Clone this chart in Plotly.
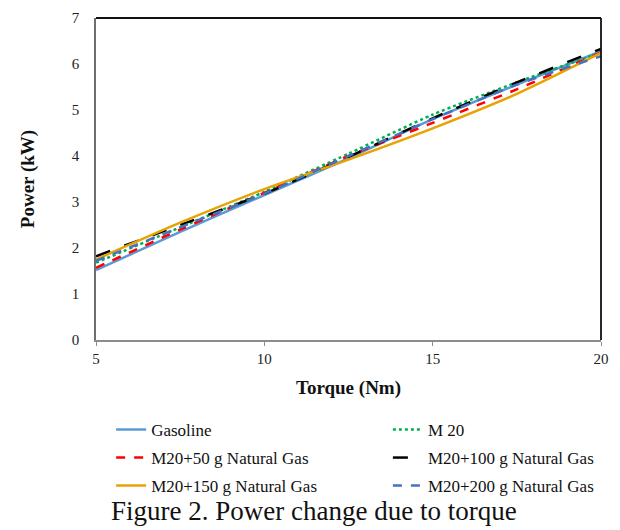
import plotly.graph_objects as go

torque = [5, 7.5, 10, 12.5, 15, 17.5, 20]
gasoline = [1.52, 2.35, 3.15, 3.95, 4.80, 5.55, 6.28]
m20 = [1.68, 2.45, 3.22, 4.05, 4.90, 5.60, 6.25]
m20_50 = [1.57, 2.40, 3.20, 4.00, 4.72, 5.45, 6.25]
m20_100 = [1.82, 2.50, 3.18, 3.98, 4.82, 5.60, 6.33]
m20_150 = [1.75, 2.55, 3.28, 3.92, 4.60, 5.35, 6.24]
m20_200 = [1.72, 2.45, 3.18, 4.00, 4.80, 5.55, 6.17]

series = [
    ("Gasoline", gasoline, "#5B9BD5", "solid"),
    ("M 20", m20, "#00B050", "dot"),
    ("M20+50 g Natural Gas", m20_50, "#FF0000", "dash"),
    ("M20+100 g Natural Gas", m20_100, "#000000", "longdash"),
    ("M20+150 g Natural Gas", m20_150, "#E8A202", "solid"),
    ("M20+200 g Natural Gas", m20_200, "#4472C4", "dash"),
]

font_family = "Liberation Serif"

# legend slot positions (paper coords): two columns, three rows
legend_x = [0.03, 0.578]
legend_y = [-0.2795, -0.3665, -0.4534]

fig = go.Figure()
legend_layouts = {}
for i, (name, vals, color, dash) in enumerate(series):
    lg = "legend" if i == 0 else f"legend{i + 1}"
    fig.add_trace(go.Scatter(
        x=torque, y=vals, name=name, mode="lines", legend=lg,
        line=dict(color=color, width=2.5, dash=dash, shape="spline", smoothing=0.6),
    ))
    legend_layouts[lg] = dict(
        x=legend_x[i % 2], xanchor="left",
        y=legend_y[i // 2], yanchor="middle",
        orientation="h",
        font=dict(size=17, family=font_family, color="#111"),
        bgcolor="rgba(0,0,0,0)",
    )

fig.update_layout(
    width=620, height=530,
    margin=dict(l=96, r=19, t=18, b=190, autoexpand=False),
    paper_bgcolor="white", plot_bgcolor="white",
    font=dict(family=font_family, color="#222", size=14),
    showlegend=True,
    xaxis=dict(
        range=[5, 20], dtick=5, tick0=5,
        showgrid=False, zeroline=False,
        showline=True, linecolor="#8c8c8c", linewidth=1.5,
        ticks="outside", ticklen=4, tickcolor="#8c8c8c",
        ticklabeloverflow="allow",
        tickfont=dict(size=15, family=font_family, color="#222"),
        title=dict(text="<b>Torque (Nm)</b>", font=dict(size=19, family=font_family, color="#111"), standoff=15),
    ),
    yaxis=dict(
        range=[0, 7], dtick=1,
        showgrid=False, zeroline=False,
        showline=True, linecolor="#6e6e6e", linewidth=1.5,
        ticks="", ticklabelstandoff=12,
        tickfont=dict(size=15, family=font_family, color="#222"),
        title=dict(text="<b>Power (kW)</b>", font=dict(size=19, family=font_family, color="#111"), standoff=32),
    ),
    shapes=[
        dict(type="line", xref="paper", yref="paper", x0=0, x1=1, y0=1, y1=1,
             line=dict(color="#111", width=1.8)),
        dict(type="line", xref="paper", yref="paper", x0=1, x1=1, y0=0, y1=1,
             line=dict(color="#111", width=1.8)),
    ],
    annotations=[
        dict(text="Figure 2. Power change due to torque", xref="paper", yref="paper",
             x=0.431, y=-0.53, xanchor="center", yanchor="middle", showarrow=False,
             font=dict(size=27, family=font_family, color="#111")),
    ],
    **legend_layouts,
)

fig.write_html("out.html", config={"displayModeBar": False},
               post_script="document.body.style.margin='0';")
